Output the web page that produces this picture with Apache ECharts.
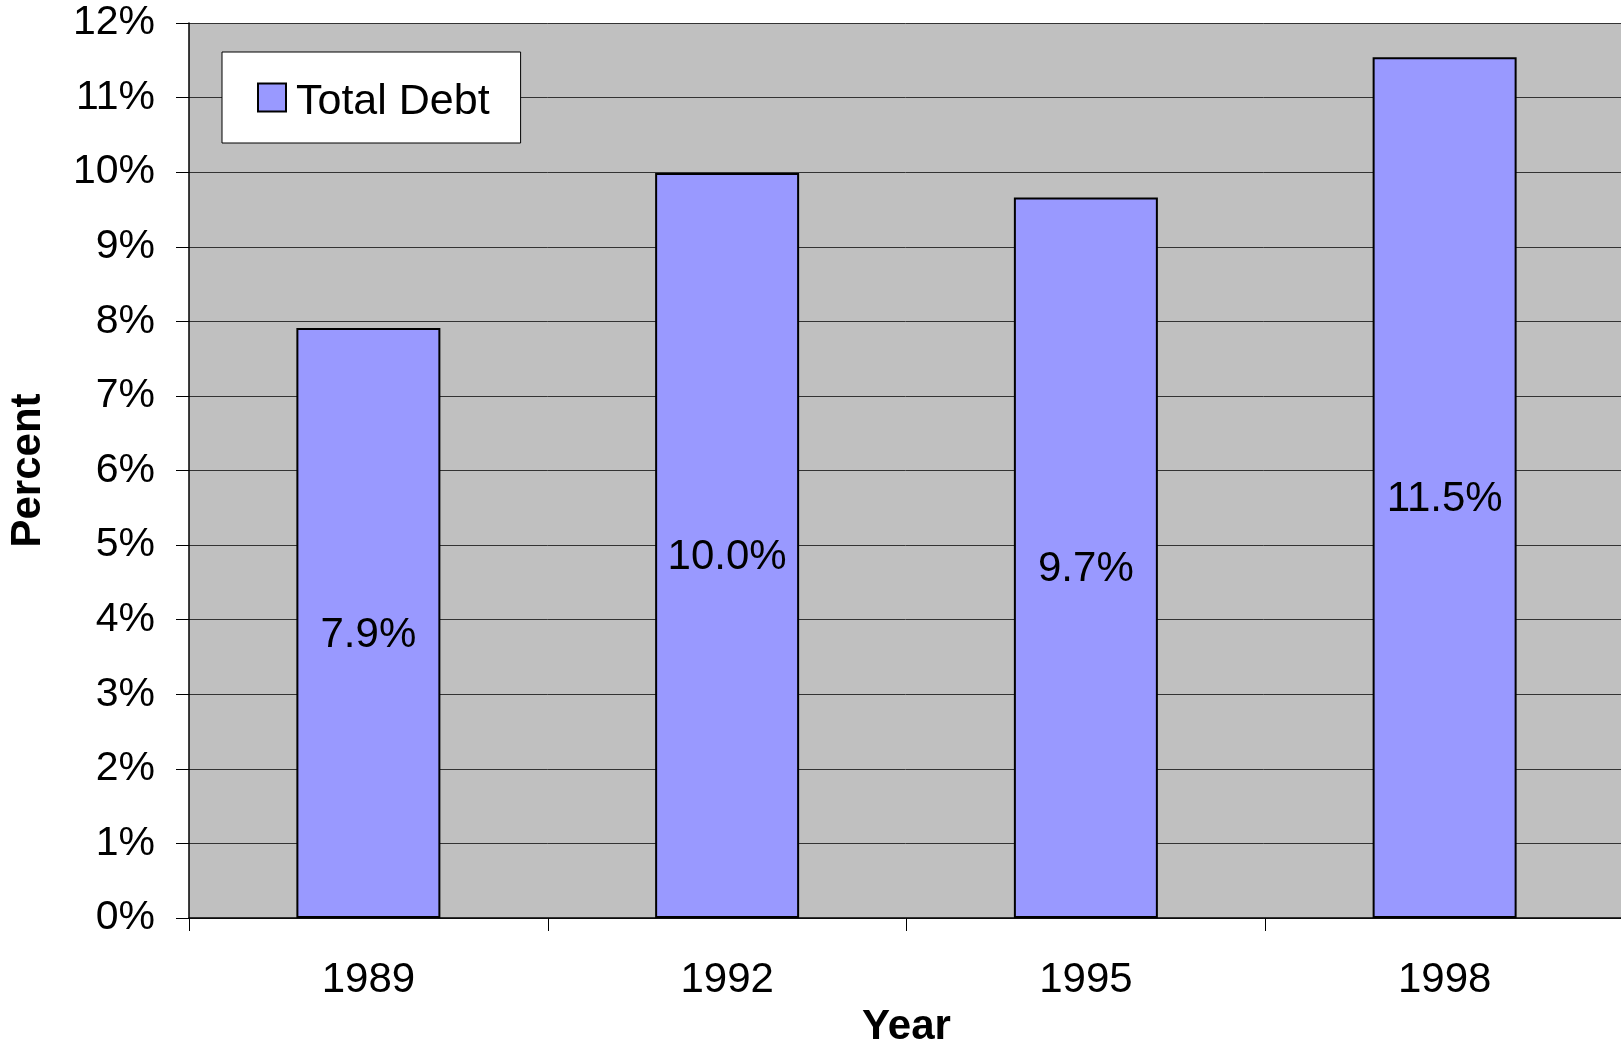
<!DOCTYPE html>
<html><head><meta charset="utf-8">
<script src="https://cdn.jsdelivr.net/npm/echarts@6/dist/echarts.min.js"></script>
<style>html,body{margin:0;padding:0;background:#fff;overflow:hidden}#c{width:1621px;height:1046px}</style>
</head><body><div id="c"></div>
<script>
const years = ['1989', '1992', '1995', '1998'];
const totalDebt = [7.91, 9.99, 9.66, 11.54];
const seriesName = 'Total Debt';
const FONT = '"Liberation Sans", Arial, sans-serif';
const chart = echarts.init(document.getElementById('c'), null, {renderer: 'canvas'});
chart.setOption({
  animation: false,
  backgroundColor: '#ffffff',
  textStyle: {fontFamily: FONT},
  legend: {
    data: [seriesName],
    left: 222, top: 52,
    padding: [19, 31, 19, 35],
    backgroundColor: '#ffffff',
    borderColor: '#000000', borderWidth: 1,
    itemWidth: 28, itemHeight: 28, itemGap: 10,
    icon: 'rect',
    itemStyle: {borderColor: '#000', borderWidth: 2},
    formatter: name => '{a|' + name + '}',
    textStyle: {fontFamily: FONT, fontSize: 43, color: '#000',
      rich: {a: {fontFamily: FONT, fontSize: 43, lineHeight: 43, color: '#000', padding: [10, 0, 0, 5]}}}
  },
  grid: {left: 189, top: 23, width: 1435, height: 895, backgroundColor: '#c0c0c0', show: true,
    borderWidth: 0, outerBoundsMode: 'none', containLabel: false},
  xAxis: {
    type: 'category', data: years,
    name: 'Year', nameLocation: 'middle', nameGap: 88,
    nameTextStyle: {fontFamily: FONT, fontSize: 42, fontWeight: 'bold', color: '#000'},
    axisLine: {lineStyle: {color: '#000', width: 1.5}},
    axisTick: {show: true, length: 13, lineStyle: {color: '#000', width: 1}},
    axisLabel: {fontFamily: FONT, fontSize: 42, color: '#000', margin: 41},
    splitLine: {show: false}
  },
  yAxis: {
    type: 'value', min: 0, max: 12, interval: 1,
    name: 'Percent', nameLocation: 'middle', nameGap: 140, nameRotate: 90,
    nameTextStyle: {fontFamily: FONT, fontSize: 42, fontWeight: 'bold', color: '#000'},
    axisLine: {show: true, lineStyle: {color: '#000', width: 1.5}},
    axisTick: {show: true, length: 13, lineStyle: {color: '#000', width: 1}},
    axisLabel: {fontFamily: FONT, fontSize: 41, color: '#000', margin: 34, formatter: '{value}%'},
    splitLine: {show: true, lineStyle: {color: '#333333', width: 1}}
  },
  series: [{
    name: seriesName, type: 'bar', data: totalDebt,
    barWidth: 144,
    itemStyle: {color: '#9999ff', borderColor: '#000', borderWidth: 2},
    label: {show: true, position: 'inside', offset: [0, 12], fontFamily: FONT, fontSize: 42, color: '#000',
      formatter: p => p.value.toFixed(1) + '%'}
  }]
});
</script></body></html>
